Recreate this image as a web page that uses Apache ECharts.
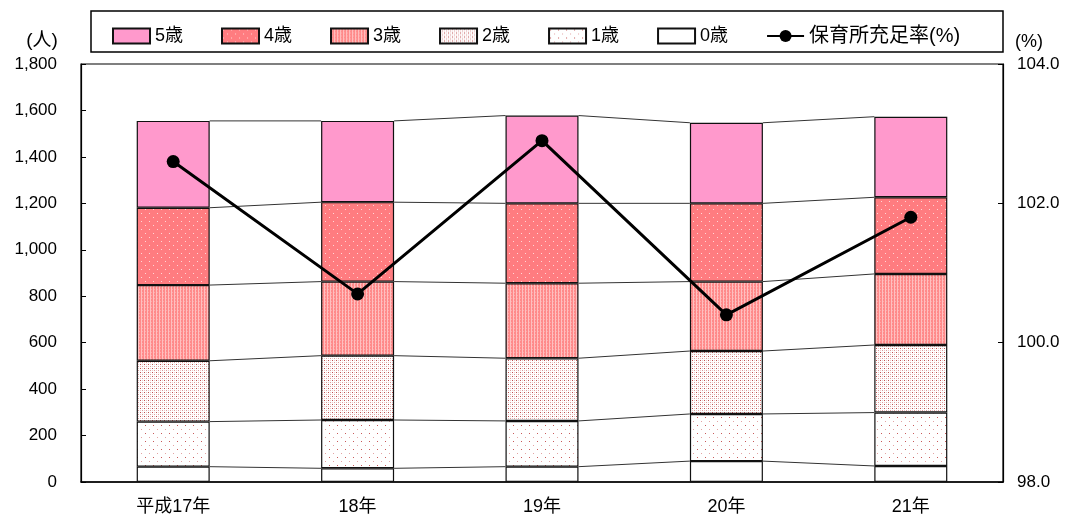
<!DOCTYPE html>
<html>
<head>
<meta charset="utf-8">
<script src="https://cdn.jsdelivr.net/npm/echarts@6/dist/echarts.min.js"></script>
<style>html,body{margin:0;padding:0;background:#fff;}#c{width:1070px;height:521px;}</style>
</head>
<body>
<div id="c"></div>
<script>
// ---- data ----
var categories = ['平成17年', '18年', '19年', '20年', '21年'];
var age0 = [66, 59, 66, 90, 69];
var age1 = [194, 208, 197, 203, 230];
var age2 = [262, 277, 270, 271, 291];
var age3 = [326, 319, 323, 299, 306];
var age4 = [333, 342, 344, 337, 330];
var age5 = [374, 350, 378, 347, 347];
var fillRate = [102.6, 100.7, 102.9, 100.4, 101.8];
var seriesNames = ['5歳', '4歳', '3歳', '2歳', '1歳', '0歳'];
var lineName = '保育所充足率(%)';
var leftTicks = { min: 0, max: 1800, interval: 200 };
var rightTicks = { min: 98, max: 104, interval: 2 };

// ---- patterns ----
function pat(w, h, bg, dots) {
  var c = document.createElement('canvas');
  c.width = w; c.height = h;
  var g = c.getContext('2d');
  g.fillStyle = bg; g.fillRect(0, 0, w, h);
  dots.forEach(function (d) { g.fillStyle = d[2]; g.fillRect(d[0], d[1], d[3] || 1, d[4] || 1); });
  return { image: c, repeat: 'repeat' };
}
var fill5 = '#FF99CC';
var fill4 = pat(8, 8, '#FF7C80', [[1, 1, '#FFD6D6'], [5, 5, '#FFD6D6']]);
var fill3 = pat(3, 3, '#FF8A8A', [[0, 0, '#FFC0C0', 1, 3], [1, 1, '#FFA8A8']]);
var fill2 = pat(4, 4, '#FFFFFF', [[0, 0, '#C05050'], [2, 2, '#DC9C9C'], [2, 0, '#EECACA'], [0, 2, '#EECACA']]);
var fill1 = pat(8, 8, '#FFFFFF', [[1, 1, '#C85A5A'], [5, 5, '#E2A4A4']]);
var fill0 = '#FFFFFF';
var fills = [fill5, fill4, fill3, fill2, fill1, fill0];

var stackArrays = [age0, age1, age2, age3, age4, age5]; // bottom to top
var BAR_W = 73;
var FONT = "'Liberation Sans', 'Noto Sans CJK JP', sans-serif";

function cumAt(i) {
  var out = [], s = 0;
  for (var k = 0; k < stackArrays.length; k++) { s += stackArrays[k][i]; out.push(s); }
  return out;
}

var barSeries = [];
var barData = [age5, age4, age3, age2, age1, age0];
for (var k = 5; k >= 0; k--) {
  barSeries.push({
    name: seriesNames[k],
    type: 'bar',
    stack: 'total',
    barWidth: BAR_W,
    data: barData[k],
    itemStyle: { color: fills[k], borderColor: '#111', borderWidth: 1.2 },
    emphasis: { disabled: true },
    z: 2
  });
}

var connector = {
  type: 'custom',
  name: 'conn',
  silent: true,
  z: 3,
  data: categories.map(function (c, i) { return [i]; }),
  renderItem: function (params, api) {
    var i = api.value(0);
    if (i >= categories.length - 1) return null;
    var a = cumAt(i), b = cumAt(i + 1);
    var children = [];
    for (var k = 0; k < a.length; k++) {
      var p1 = api.coord([i, a[k]]);
      var p2 = api.coord([i + 1, b[k]]);
      children.push({
        type: 'line',
        shape: { x1: p1[0] + BAR_W / 2, y1: p1[1], x2: p2[0] - BAR_W / 2, y2: p2[1] },
        style: { stroke: '#333', lineWidth: 1 }
      });
    }
    return { type: 'group', children: children };
  }
};

var lineSeries = {
  name: lineName,
  type: 'line',
  yAxisIndex: 1,
  data: fillRate,
  symbol: 'circle',
  symbolSize: 13,
  lineStyle: { color: '#000', width: 3 },
  itemStyle: { color: '#000' },
  emphasis: { disabled: true },
  z: 5
};

var legendData = seriesNames.map(function (n) { return { name: n, icon: 'rect' }; });
legendData.push({ name: lineName, textStyle: { fontSize: 20 } });

var chart = echarts.init(document.getElementById('c'), null, { renderer: 'canvas' });
chart.setOption({
  animation: false,
  textStyle: { fontFamily: FONT },
  grid: { left: 81, right: 67, top: 64, bottom: 39, show: true, borderColor: '#000', borderWidth: 1.2, backgroundColor: 'transparent' },
  legend: {
    data: legendData,
    left: 112, top: 26, padding: 0,
    itemWidth: 37, itemHeight: 15, itemGap: 38,
    textStyle: { fontFamily: FONT, fontSize: 18, color: '#000' },
    selectedMode: false
  },
  graphic: [
    { type: 'rect', shape: { x: 91, y: 11, width: 912, height: 41 }, style: { fill: 'none', stroke: '#000', lineWidth: 1.5 }, z: 0 },
    { type: 'text', x: 42, y: 41, style: { text: '(人)', font: '19px ' + FONT, fill: '#000', textAlign: 'center', textVerticalAlign: 'middle' } },
    { type: 'text', x: 1029, y: 42, style: { text: '(%)', font: '18px ' + FONT, fill: '#000', textAlign: 'center', textVerticalAlign: 'middle' } }
  ],
  xAxis: {
    type: 'category',
    data: categories,
    axisLine: { lineStyle: { color: '#000', width: 1.5 } },
    axisTick: { inside: true, length: 5, lineStyle: { color: '#000' } },
    axisLabel: { color: '#000', fontSize: 18, margin: 16, fontFamily: FONT }
  },
  yAxis: [
    {
      type: 'value', min: leftTicks.min, max: leftTicks.max, interval: leftTicks.interval,
      splitLine: { show: false },
      axisLine: { show: true, lineStyle: { color: '#000', width: 1.2 } },
      axisTick: { show: true, inside: true, length: 5, lineStyle: { color: '#000' } },
      axisLabel: { color: '#000', fontSize: 17, margin: 24, fontFamily: FONT,
        formatter: function (v) { return v.toLocaleString('en-US'); } }
    },
    {
      type: 'value', min: rightTicks.min, max: rightTicks.max, interval: rightTicks.interval,
      splitLine: { show: false },
      axisLine: { show: true, lineStyle: { color: '#000', width: 1.2 } },
      axisTick: { show: true, inside: true, length: 5, lineStyle: { color: '#000' } },
      axisLabel: { color: '#000', fontSize: 17, margin: 14, fontFamily: FONT,
        formatter: function (v) { return v.toFixed(1); } }
    }
  ],
  series: barSeries.concat([connector, lineSeries])
});
</script>
</body>
</html>
